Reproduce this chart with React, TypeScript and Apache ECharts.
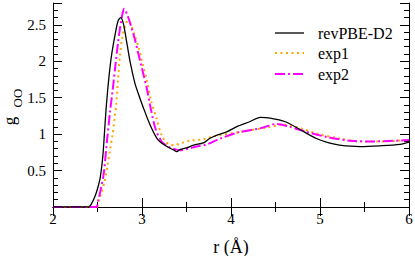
import React, { useEffect, useRef } from "react";
import * as echarts from "echarts";

// revPBE-D2 (black solid)
const rPBE = [2.0, 2.4, 2.43, 2.47, 2.5, 2.53, 2.56, 2.58, 2.6, 2.63, 2.66, 2.7, 2.73, 2.76, 2.79, 2.83, 2.87, 2.92, 2.96, 3.01, 3.09, 3.17, 3.24, 3.31, 3.36, 3.39, 3.43, 3.5, 3.58, 3.69, 3.76, 3.85, 3.95, 4.06, 4.21, 4.33, 4.44, 4.61, 4.78, 4.96, 5.1, 5.22, 5.45, 5.67, 5.9, 6.0];
const gPBE = [0, 0, 0.04, 0.14, 0.25, 0.4, 0.7, 1.05, 1.4, 1.8, 2.1, 2.38, 2.55, 2.6, 2.52, 2.25, 1.97, 1.7, 1.55, 1.38, 1.13, 0.94, 0.86, 0.81, 0.78, 0.76, 0.79, 0.81, 0.85, 0.88, 0.94, 0.99, 1.03, 1.1, 1.17, 1.23, 1.22, 1.17, 1.06, 0.94, 0.88, 0.85, 0.83, 0.84, 0.86, 0.89];

// exp1 (orange dotted)
const rExp1 = [2.0, 2.49, 2.52, 2.55, 2.58, 2.61, 2.64, 2.67, 2.69, 2.71, 2.73, 2.75, 2.78, 2.81, 2.84, 2.87, 2.91, 2.96, 3.01, 3.05, 3.1, 3.17, 3.22, 3.3, 3.36, 3.45, 3.54, 3.69, 3.8, 4.1, 4.4, 4.59, 4.78, 4.96, 5.22, 5.45, 5.7, 6.0];
const gExp1 = [0, 0, 0.12, 0.21, 0.35, 0.55, 0.78, 1.0, 1.2, 1.4, 1.74, 2.05, 2.34, 2.48, 2.56, 2.52, 2.38, 2.2, 1.95, 1.76, 1.47, 1.19, 0.99, 0.86, 0.85, 0.88, 0.91, 0.93, 0.97, 1.03, 1.09, 1.13, 1.08, 1.01, 0.94, 0.9, 0.9, 0.92];

// exp2 (magenta dash-dot)
const rExp2 = [2.0, 2.48, 2.51, 2.54, 2.57, 2.61, 2.64, 2.67, 2.7, 2.73, 2.75, 2.78, 2.8, 2.84, 2.88, 2.92, 2.96, 3.0, 3.05, 3.09, 3.15, 3.22, 3.28, 3.33, 3.43, 3.52, 3.61, 3.73, 3.88, 4.1, 4.33, 4.51, 4.66, 4.85, 5.08, 5.34, 5.6, 6.0];
const gExp2 = [0, 0, 0.1, 0.26, 0.46, 0.95, 1.3, 1.6, 1.93, 2.25, 2.43, 2.65, 2.72, 2.62, 2.47, 2.3, 2.1, 1.9, 1.65, 1.4, 1.08, 0.9, 0.84, 0.81, 0.78, 0.8, 0.83, 0.86, 0.94, 1.03, 1.08, 1.14, 1.1, 1.03, 0.96, 0.91, 0.9, 0.92];

const xTicks = [2, 3, 4, 5, 6];
const yTickLabels = [0.5, 1, 1.5, 2, 2.5];
const seriesNames = ["revPBE-D2", "exp1", "exp2"];
const xTitle = "r (Å)";
const yTitleMain = "g";
const yTitleSub = "OO";

const FONT = "'Liberation Serif', 'Times New Roman', serif";

const STYLES = [
  { color: "#000000", width: 1.3, dash: null as number[] | null },
  { color: "#FFA500", width: 2, dash: [2, 3.5] },
  { color: "#FF00FF", width: 2, dash: [10, 3, 2, 3] },
];

function pairs(r: number[], g: number[]) {
  return r.map((v, i) => [v, g[i]]);
}

export default function App() {
  const ref = useRef<HTMLDivElement>(null);
  useEffect(() => {
    if (!ref.current) return;
    const chart = echarts.init(ref.current, null, { renderer: "svg" });
    const axisLine = { show: true, lineStyle: { color: "#000", width: 1 } };
    const xBase = {
      type: "value" as const,
      min: xTicks[0],
      max: xTicks[xTicks.length - 1],
      interval: 1,
      axisLine,
      splitLine: { show: false },
      axisLabel: { show: false },
      axisTick: { show: true, inside: true, length: 9, lineStyle: { color: "#000" } },
      minorTick: { show: true, splitNumber: 2, length: 5, lineStyle: { color: "#000" } },
    };
    const yMajor = {
      type: "value" as const,
      min: 0,
      max: 2.8,
      interval: 0.5,
      axisLine,
      splitLine: { show: false },
      axisLabel: { show: false },
      axisTick: { show: true, inside: true, length: 9, lineStyle: { color: "#000" } },
    };
    const yMinor = {
      type: "value" as const,
      min: 0,
      max: 2.8,
      interval: 0.1,
      axisLine: { show: false },
      splitLine: { show: false },
      axisLabel: { show: false },
      axisTick: { show: true, inside: true, length: 5, lineStyle: { color: "#000" } },
    };

    chart.setOption({
      animation: false,
      backgroundColor: "#fff",
      textStyle: { fontFamily: FONT },
      grid: { left: 53, right: 6, top: 3, bottom: 49, containLabel: false, outerBoundsMode: "none" },
      xAxis: [
        { ...xBase, position: "bottom" },
        { ...xBase, position: "top" },
      ],
      yAxis: [
        { ...yMajor, position: "left" },
        { ...yMinor, position: "left" },
        { ...yMajor, position: "right" },
        { ...yMinor, position: "right" },
      ],
      series: [
        {
          name: seriesNames[0],
          type: "line",
          data: pairs(rPBE, gPBE),
          symbol: "none",
          smooth: 0.3,
          lineStyle: { color: STYLES[0].color, width: STYLES[0].width, type: "solid" },
          itemStyle: { color: STYLES[0].color },
          z: 3,
        },
        {
          name: seriesNames[1],
          type: "line",
          data: pairs(rExp1, gExp1),
          symbol: "none",
          smooth: 0.3,
          lineStyle: { color: STYLES[1].color, width: STYLES[1].width, type: STYLES[1].dash },
          itemStyle: { color: STYLES[1].color },
          z: 2,
        },
        {
          name: seriesNames[2],
          type: "line",
          data: pairs(rExp2, gExp2),
          symbol: "none",
          smooth: 0.3,
          lineStyle: { color: STYLES[2].color, width: STYLES[2].width, type: STYLES[2].dash },
          itemStyle: { color: STYLES[2].color },
          z: 2,
        },
      ],
    });

    // Tick labels & titles positioned through the axes' own scales
    const g: any[] = [];
    const y0 = chart.convertToPixel({ yAxisIndex: 0 }, 0) as number;
    const x0 = chart.convertToPixel({ xAxisIndex: 0 }, xTicks[0]) as number;
    xTicks.forEach((v) => {
      const px = chart.convertToPixel({ xAxisIndex: 0 }, v) as number;
      g.push({
        type: "text",
        x: px,
        y: y0 + 12,
        style: { text: String(v), fontFamily: FONT, fontSize: 15, fill: "#000", align: "center", verticalAlign: "middle" },
      });
    });
    yTickLabels.forEach((v) => {
      const py = chart.convertToPixel({ yAxisIndex: 0 }, v) as number;
      g.push({
        type: "text",
        x: x0 - 7,
        y: py,
        style: { text: String(v), fontFamily: FONT, fontSize: 15, fill: "#000", align: "right", verticalAlign: "middle" },
      });
    });
    const xMid = chart.convertToPixel({ xAxisIndex: 0 }, (xTicks[0] + xTicks[xTicks.length - 1]) / 2) as number;
    g.push({
      type: "text",
      x: xMid,
      y: y0 + 40,
      style: { text: xTitle, fontFamily: FONT, fontSize: 18, fill: "#000", align: "center", verticalAlign: "middle" },
    });
    g.push({
      type: "text",
      x: 9,
      y: 121,
      rotation: Math.PI / 2,
      style: { text: yTitleMain, fontFamily: FONT, fontSize: 17, fill: "#000", align: "center", verticalAlign: "middle" },
    });
    g.push({
      type: "text",
      x: 17,
      y: 98,
      rotation: Math.PI / 2,
      style: { text: yTitleSub, fontFamily: FONT, fontSize: 13, fill: "#000", align: "center", verticalAlign: "middle" },
    });

    const legendX = 275;
    const legendY = [33, 53, 74];
    seriesNames.forEach((name, i) => {
      const s = STYLES[i];
      g.push({
        type: "line",
        shape: { x1: legendX, y1: legendY[i], x2: legendX + 29, y2: legendY[i] },
        style: { stroke: s.color, lineWidth: s.width, lineDash: s.dash || undefined },
      });
      g.push({
        type: "text",
        x: legendX + 43,
        y: legendY[i],
        style: { text: name, fontFamily: FONT, fontSize: 16, fill: "#000", align: "left", verticalAlign: "middle" },
      });
    });
    chart.setOption({ graphic: g });

    return () => chart.dispose();
  }, []);
  return (
    <div
      ref={ref}
      style={{ position: "fixed", left: 0, top: 0, width: 415, height: 256, background: "#fff" }}
    />
  );
}
